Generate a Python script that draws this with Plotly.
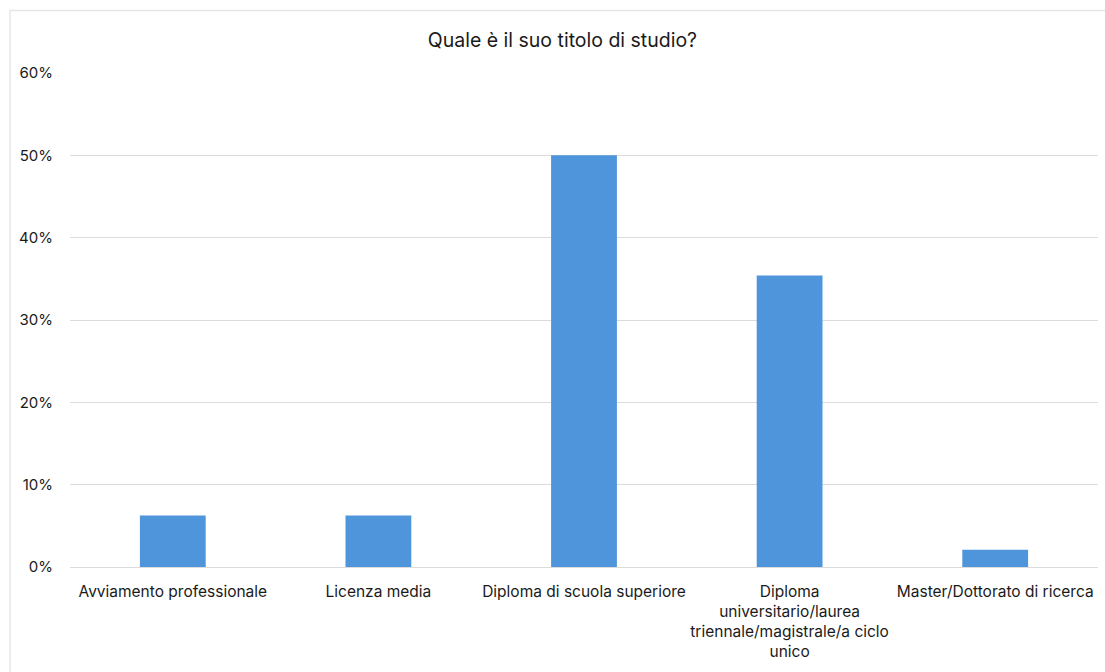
import plotly.graph_objects as go

# Survey answers: highest educational qualification (share of respondents)
categories = [
    "Avviamento professionale",
    "Licenza media",
    "Diploma di scuola superiore",
    "Diploma<br>universitario/laurea<br>triennale/magistrale/a ciclo<br>unico",
    "Master/Dottorato di ricerca",
]
shares = [0.0625, 0.0625, 0.50, 0.354, 0.0208]
y_ticks = [0, 0.1, 0.2, 0.3, 0.4, 0.5, 0.6]
y_tick_labels = ["0%", "10%", "20%", "30%", "40%", "50%", "60%"]

FONT = "Inter, Open Sans, Liberation Sans, sans-serif"
W, H = 1105, 672
ML, MR, MT, MB = 70, 7, 73, 105

x_pos = list(range(len(categories)))

fig = go.Figure(
    go.Bar(
        x=x_pos,
        y=shares,
        marker=dict(color="#4F95DB", line=dict(width=0)),
        width=0.32,
        hoverinfo="skip",
    )
)

pw = W - ML - MR
ph = H - MT - MB

fig.update_layout(
    width=W,
    height=H,
    margin=dict(l=ML, r=MR, t=MT, b=MB),
    paper_bgcolor="white",
    plot_bgcolor="white",
    showlegend=False,
    font=dict(family=FONT, color="#1a1a1a", size=15),
    title=dict(
        text="Quale è il suo titolo di studio?",
        x=0.509,
        xref="container",
        xanchor="center",
        y=1 - 40 / H,
        yref="container",
        yanchor="middle",
        font=dict(family=FONT, size=19.5, color="#1a1a1a"),
    ),
    xaxis=dict(
        tickmode="array",
        tickvals=x_pos,
        ticktext=categories,
        range=[-0.5, len(categories) - 0.5],
        showgrid=False,
        showline=False,
        zeroline=False,
        ticks="",
        tickangle=0,
        ticklabelstandoff=13,
        tickfont=dict(size=15.5, color="#1a1a1a"),
        fixedrange=True,
    ),
    yaxis=dict(
        tickmode="array",
        tickvals=y_ticks,
        ticktext=y_tick_labels,
        range=[0, 0.6],
        showgrid=True,
        gridcolor="#DCDCDC",
        gridwidth=1,
        zeroline=True,
        zerolinecolor="#DCDCDC",
        zerolinewidth=1,
        showline=False,
        ticks="",
        ticklabelstandoff=16,
        tickfont=dict(size=15, color="#1a1a1a"),
        fixedrange=True,
    ),
    shapes=[
        # chart frame
        dict(
            type="rect",
            xref="paper",
            yref="paper",
            x0=(10 - ML) / pw,
            x1=(W + 20 - ML) / pw,
            y0=-(MB + 20) / ph,
            y1=1 + (MT - 10.5) / ph,
            line=dict(color="#E6E6E6", width=1.5),
            layer="below",
        )
    ],
)

fig.write_html("out.html")
